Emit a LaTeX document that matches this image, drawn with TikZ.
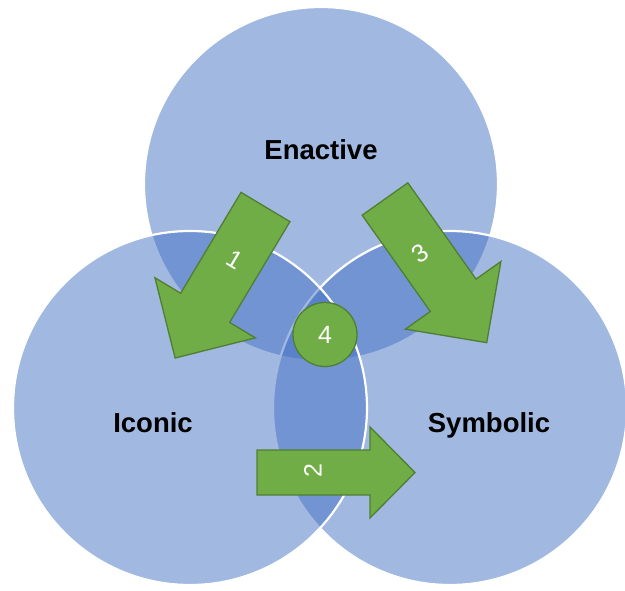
\documentclass[tikz,border=0pt]{standalone}
\usepackage{fontspec}
\setmainfont{Liberation Sans}
\usetikzlibrary{calc}
\definecolor{vennblue}{HTML}{4472C4}
\definecolor{arrowgreen}{HTML}{70AD47}
\definecolor{arrowedge}{HTML}{507E32}
% Outline of a block arrow with its tail at the origin, pointing along +x:
% #1 length, #2 shaft width, #3 head width, #4 head length
\newcommand\ArrowOutline[4]{%
  (0,-#2/2) -- (#1-#4,-#2/2) -- (#1-#4,-#3/2) -- (#1,0) --
  (#1-#4,#3/2) -- (#1-#4,#2/2) -- (0,#2/2) -- cycle}
\begin{document}
\begin{tikzpicture}[x=1pt,y=-1pt,
  venn/.style={circle, minimum size=354pt, inner sep=0pt, fill=vennblue,
    fill opacity=0.5, draw=white, draw opacity=1, line width=2.2pt},
  blockarrow/.style={fill=arrowgreen, draw=arrowedge, line width=1.3pt, line join=miter},
  stagelabel/.style={font=\bfseries\fontsize{27.5}{27.5}\selectfont, text=black, anchor=base},
  steplabel/.style={font=\fontsize{25}{25}\selectfont, text=white, inner sep=0pt}
]
\useasboundingbox (0,0) rectangle (625,591);
\fill[white] (0,0) rectangle (625,591);

% the three overlapping circles
\node[venn] (enactive) at (321,184) {};
\node[venn] (symbolic) at (450,408) {};
\node[venn] (iconic)   at (190,408) {};

% stage names
\node[stagelabel] (tE) at (321,160) {Enactive};
\node[stagelabel] (tI) at (153,432) {Iconic};
\node[stagelabel] (tS) at (489,432) {Symbolic};

% transition arrows
\begin{scope}[shift={(265.5,207)}, rotate=-120.9, x=1pt, y=1pt]
  \draw[blockarrow] \ArrowOutline{176}{57}{117}{58.5};
\end{scope}
\begin{scope}[shift={(385,199)}, rotate=-54.7, x=1pt, y=1pt]
  \draw[blockarrow] \ArrowOutline{176}{56}{117}{58};
\end{scope}
\begin{scope}[shift={(257,472.5)}, x=1pt, y=1pt]
  \draw[blockarrow] \ArrowOutline{158}{45}{91}{45};
\end{scope}

\node[steplabel, rotate=-30.9] (n1) at (235,260) {1};
\node[steplabel, rotate=90]    (n2) at (313,471) {2};
\node[steplabel, rotate=35.3]  (n3) at (420,253) {3};

% centre badge
\node[circle, minimum size=64pt, fill=arrowgreen, draw=arrowedge, line width=1.3pt,
      steplabel] (n4) at (325,334.5) {4};
\end{tikzpicture}
\end{document}
